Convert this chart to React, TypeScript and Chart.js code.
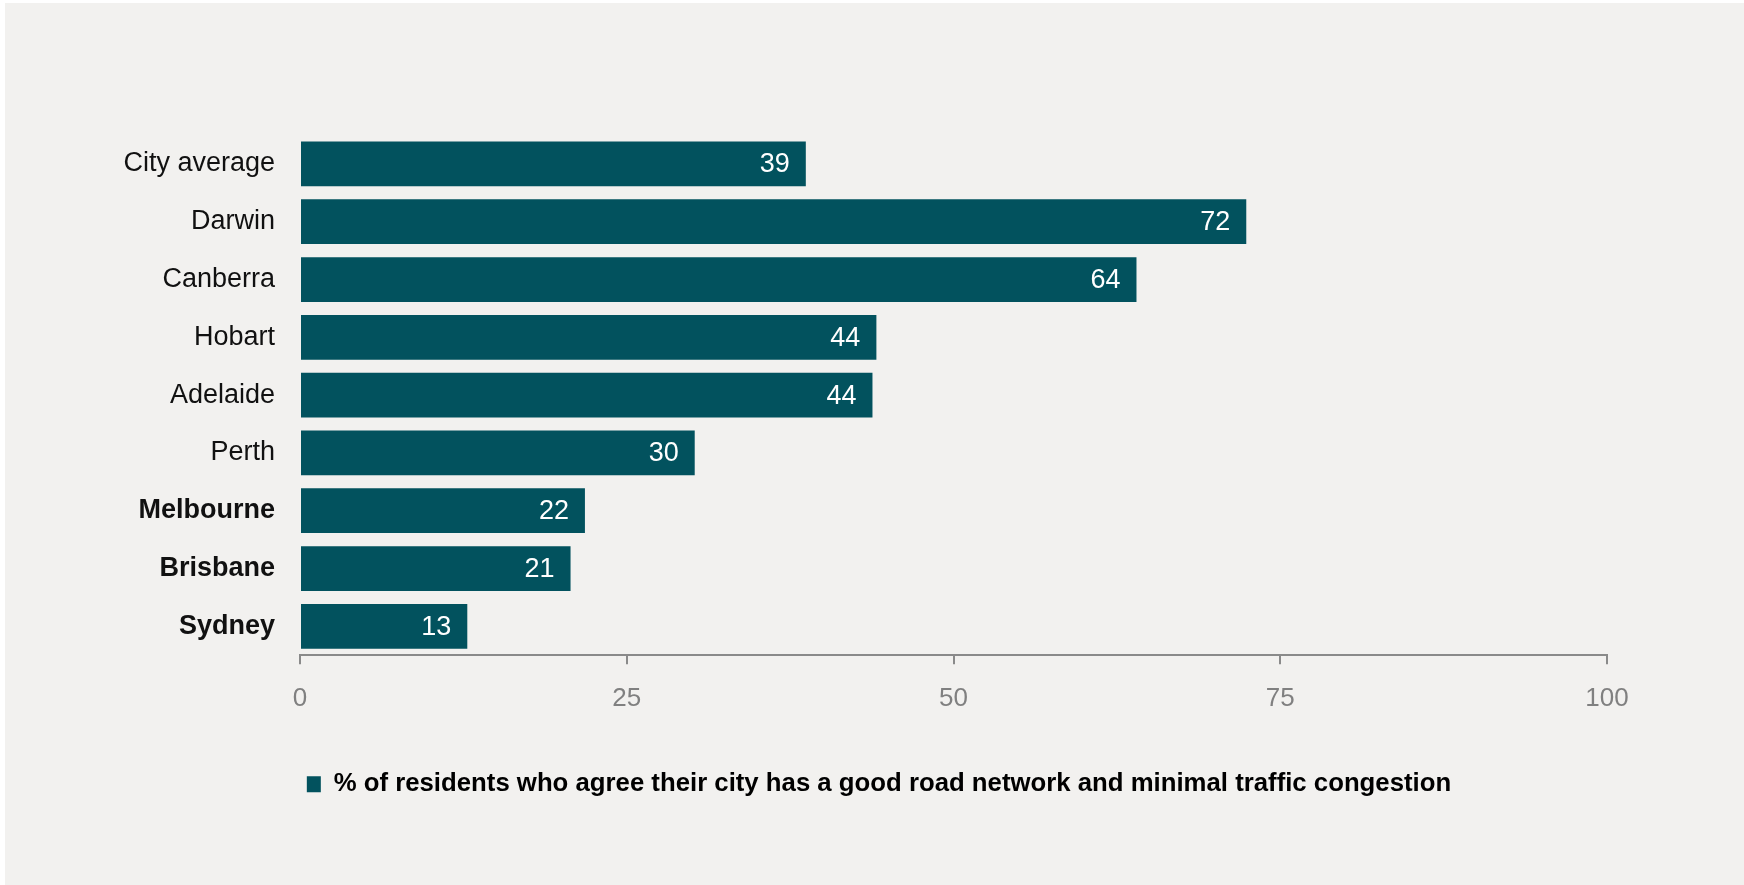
import React, { useEffect, useRef } from "react";
import { Chart, registerables } from "chart.js";

Chart.register(...registerables);

const categories = [
  "City average",
  "Darwin",
  "Canberra",
  "Hobart",
  "Adelaide",
  "Perth",
  "Melbourne",
  "Brisbane",
  "Sydney",
];
const values = [38.7, 72.4, 64.0, 44.1, 43.8, 30.2, 21.8, 20.7, 12.8];
const dataLabels = ["39", "72", "64", "44", "44", "30", "22", "21", "13"];
const boldCategories = ["Melbourne", "Brisbane", "Sydney"];
const seriesName =
  "% of residents who agree their city has a good road network and minimal traffic congestion";
const xTicks = [0, 25, 50, 75, 100];

const FONT = "'Liberation Sans', Arial, sans-serif";
const BAR = "#02525E";
const PANEL = "#F2F1EF";

const bgPlugin = {
  id: "panelBg",
  beforeDraw(chart: any) {
    const { ctx, width, height } = chart;
    ctx.save();
    ctx.fillStyle = "#ffffff";
    ctx.fillRect(0, 0, width, height);
    ctx.fillStyle = PANEL;
    ctx.fillRect(5, 3, width - 5, height - 3);
    ctx.restore();
  },
};

// centre the legend row under the plot rather than under the whole canvas
const legendShift = {
  id: "legendShift",
  afterLayout(chart: any) {
    const lg = chart.legend;
    if (lg) {
      lg.left = 151;
      lg.width = lg.right - lg.left;
    }
  },
};

const labelPlugin = {
  id: "barLabels",
  afterDatasetsDraw(chart: any) {
    const { ctx } = chart;
    const meta = chart.getDatasetMeta(0);
    ctx.save();
    ctx.fillStyle = "#ffffff";
    ctx.font = `27px ${FONT}`;
    ctx.textAlign = "right";
    ctx.textBaseline = "middle";
    meta.data.forEach((bar: any, i: number) => {
      ctx.fillText(dataLabels[i], bar.x - 16, bar.y + 1);
    });
    ctx.restore();
  },
};

export default function App() {
  const ref = useRef<HTMLCanvasElement | null>(null);

  useEffect(() => {
    document.body.style.margin = "0";
    const canvas = ref.current;
    if (!canvas) return;
    const chart = new Chart(canvas, {
      type: "bar",
      data: {
        labels: categories,
        datasets: [
          {
            label: seriesName,
            data: values,
            backgroundColor: BAR,
            borderWidth: 0,
            barPercentage: 0.9,
            categoryPercentage: 0.86,
          },
        ],
      },
      options: {
        indexAxis: "y",
        responsive: false,
        animation: false,
        layout: { padding: { left: 0, right: 137, top: 135, bottom: 78 } },
        plugins: {
          tooltip: { enabled: false },
          legend: {
            position: "bottom",
            labels: {
              boxWidth: 14,
              boxHeight: 16,
              padding: 10,
              color: "#000000",
              font: { family: FONT, size: 25.75, weight: "bold" },
            },
          },
        },
        scales: {
          x: {
            type: "linear",
            min: 0,
            max: 100,
            afterBuildTicks: (scale: any) => {
              scale.ticks = xTicks.map((v) => ({ value: v }));
            },
            afterFit: (scale: any) => {
              scale.height = 106;
            },
            grid: {
              drawOnChartArea: false,
              drawTicks: true,
              tickLength: 9,
              color: "#8a8a8a",
              lineWidth: 2,
            },
            border: { display: true, color: "#8a8a8a", width: 2 },
            ticks: {
              color: "#808080",
              padding: 19,
              font: { family: FONT, size: 26 },
            },
          },
          y: {
            afterFit: (scale: any) => {
              scale.width = 300;
            },
            grid: { display: false, drawTicks: false },
            border: { display: false },
            ticks: {
              color: "#111111",
              padding: 25,
              font: (ctx: any) => ({
                family: FONT,
                size: 27,
                weight: boldCategories.includes(categories[ctx.index])
                  ? "bold"
                  : "normal",
              }),
            },
          },
        },
      },
      plugins: [bgPlugin, legendShift, labelPlugin],
    } as any);
    return () => chart.destroy();
  }, []);

  return (
    <div style={{ position: "absolute", left: 0, top: 0, width: 1744, height: 885 }}>
      <canvas ref={ref} width={1744} height={885} style={{ display: "block" }} />
    </div>
  );
}
